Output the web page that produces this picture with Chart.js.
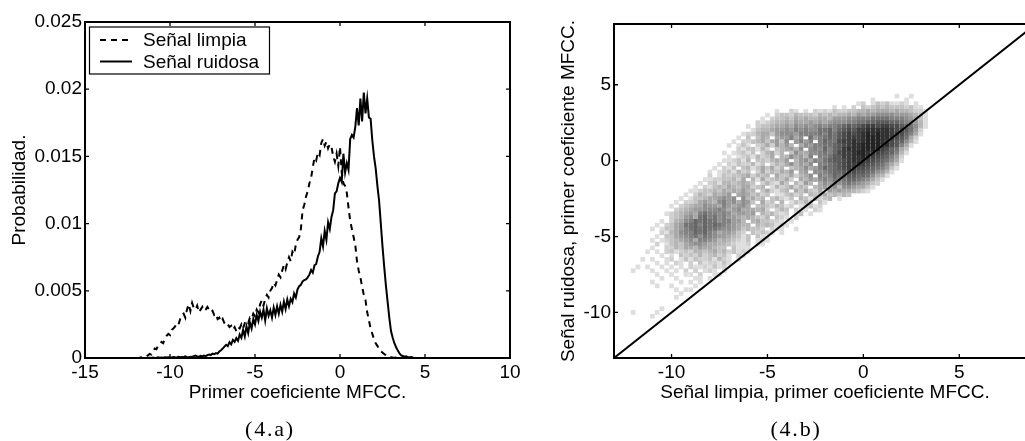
<!DOCTYPE html>
<html>
<head>
<meta charset="utf-8">
<title>Primer coeficiente MFCC</title>
<script src="https://cdn.jsdelivr.net/npm/chart.js@4"></script>
<style>
html, body { margin: 0; padding: 0; background: #fff; width: 1025px; height: 441px; overflow: hidden; }
canvas { position: absolute; top: 0; filter: blur(0.4px); }
#histo { left: 0; }
#disp { left: 540px; }
.cap { position: absolute; top: 416px; width: 80px; text-align: center; font: 22px "Liberation Serif", serif; letter-spacing: 1.8px; color: #000; }
</style>
</head>
<body>
<canvas id="histo" width="540" height="441"></canvas>
<canvas id="disp" width="510" height="441"></canvas>
<div class="cap" style="left:230px">(4.a)</div>
<div class="cap" style="left:756px">(4.b)</div>
<script>
// fig 4.a - histograms
const coefX = [
  -12.0,-11.9,-11.8,-11.7,-11.6,-11.5,-11.4,-11.3,-11.2,-11.1,
  -11.0,-10.9,-10.8,-10.7,-10.6,-10.5,-10.4,-10.3,-10.2,-10.1,
  -10.0,-9.9,-9.8,-9.7,-9.6,-9.5,-9.4,-9.3,-9.2,-9.1,
  -9.0,-8.9,-8.8,-8.7,-8.6,-8.5,-8.4,-8.3,-8.2,-8.1,
  -8.0,-7.9,-7.8,-7.7,-7.6,-7.5,-7.4,-7.3,-7.2,-7.1,
  -7.0,-6.9,-6.8,-6.7,-6.6,-6.5,-6.4,-6.3,-6.2,-6.1,
  -6.0,-5.9,-5.8,-5.7,-5.6,-5.5,-5.4,-5.3,-5.2,-5.1,
  -5.0,-4.9,-4.8,-4.7,-4.6,-4.5,-4.4,-4.3,-4.2,-4.1,
  -4.0,-3.9,-3.8,-3.7,-3.6,-3.5,-3.4,-3.3,-3.2,-3.1,
  -3.0,-2.9,-2.8,-2.7,-2.6,-2.5,-2.4,-2.3,-2.2,-2.1,
  -2.0,-1.9,-1.8,-1.7,-1.6,-1.5,-1.4,-1.3,-1.2,-1.1,
  -1.0,-0.9,-0.8,-0.7,-0.6,-0.5,-0.4,-0.3,-0.2,-0.1,
  0,0.1,0.2,0.3,0.4,0.5,0.6,0.7,0.8,0.9,
  1.0,1.1,1.2,1.3,1.4,1.5,1.6,1.7,1.8,1.9,
  2.0,2.1,2.2,2.3,2.4,2.5,2.6,2.7,2.8,2.9,
  3.0,3.1,3.2,3.3,3.4,3.5,3.6,3.7,3.8,3.9,
  4.0,4.1,4.2,4.3,4.4,4.5
]
const limpia = [
  0,0,.00002,.00005,.00004,.00008,.00012,.0002,.0003,.00025,
  .00045,.0007,.00065,.0009,.00105,.0012,.0011,.00145,.00165,.0018,
  .0017,.0021,.0022,.00235,.0026,.0025,.0029,.0032,.0033,.003,
  .0036,.004,.0035,.0041,.0037,.0036,.0039,.0034,.0036,.0038,
  .0035,.0036,.0038,.0036,.0034,.0035,.0032,.0033,.0029,.003,
  .0027,.0029,.0026,.0024,.0025,.0023,.0024,.0021,.0023,.002,
  .0023,.0022,.0025,.0022,.0026,.0028,.0026,.003,.0029,.0033,
  .0031,.0036,.0034,.004,.0043,.0039,.0044,.0047,.0045,.005,
  .0052,.0056,.0054,.0058,.0062,.006,.0065,.0069,.0066,.0071,
  .0075,.0072,.0079,.0077,.0084,.0088,.009,.0096,.011,.0114,
  .012,.0124,.013,.0134,.0142,.0149,.0147,.0153,.0151,.016,
  .0163,.0158,.0161,.0156,.0159,.0157,.015,.0146,.0152,.0143,
  .0157,.0138,.013,.0128,.0123,.0112,.0102,.0096,.009,.0084,
  .0072,.0065,.006,.0053,.0047,.0043,.0034,.0028,.0022,.0018,
  .0014,.0011,.0009,.0007,.0005,.0004,.0003,.0002,.0001,.00005,
  .00005,.00003,.00002,.00003,.00001,.00002,0,.00001,0,0,
  0,0,0,0,0,0
]
const ruidosa = [
  0,0,0,0,0,0,0,0,.00002,0,
  .00003,0,.00002,.00005,.00002,.00003,.00002,.00005,.00003,.00006,
  .00003,.00004,.00008,.00005,.00004,.00009,.00005,.00008,.00006,.00012,
  .00008,.00006,.0001,.00008,.00014,.00018,.00012,.0001,.00016,.00012,
  .00018,.00014,.00022,.00026,.00022,.00032,.00028,.00036,.00032,.00048,
  .00058,.0007,.00085,.00098,.00088,.00118,.00102,.00135,.0012,.00148,
  .00128,.00175,.0015,.0021,.0016,.00235,.00185,.00265,.0022,.0029,
  .0025,.0032,.00275,.00345,.003,.0036,.0028,.0037,.00315,.00355,
  .003,.00375,.0032,.00385,.0033,.00395,.00345,.0042,.00365,.00435,
  .00385,.0044,.00415,.0048,.0045,.0051,.00535,.00545,.0057,.0058,
  .00585,.006,.0062,.00655,.00635,.0069,.007,.00755,.0079,.0089,
  .0083,.00945,.0088,.0101,.0096,.0105,.011,.01225,.0124,.013,
  .0134,.0131,.0152,.0138,.0145,.014,.0163,.0166,.0164,.0172,
  .0186,.0173,.0193,.0176,.01975,.0182,.0193,.0179,.0178,.0162,
  .015,.0141,.0128,.0117,.01,.0083,.0068,.0054,.0042,.003,
  .002,.0015,.0011,.0008,.00055,.00035,.0002,.00015,.0001,.00012,
  .00005,.00006,.00008,.00002,0,0
]
const histoXTicks = [-15, -10, -5, 0, 5, 10]
const histoYTicks = [0, 0.005, 0.01, 0.015, 0.02, 0.025]

// fig 4.b - density of the scatter. One char per cell (hex, . = empty),
// each group of 4 is one unit of x starting at x=-12, rows go down in y from 4.25
const densityTop = 4.25
const densityStep = 0.25
const densityLeft = -12
const densityRows = [
  ".... .... .... .... .... .... .... .... .... .... .... .... .... ...1 ..1.",
  ".... .... .... .... .... .... .... .... .... .... .... .... ..1. .... .1..",
  ".... .... .... .... .... .... .... .... .... .... .... ...1 2.13 2311 21.1",
  ".... .... .... .... .... .... .... .... .... .... ..1. 1.2. 3234 3433 3231 1...",
  ".... .... .... .... .... .... .... ..1. .21. 1.21 2132 2334 4545 5545 4432 21..",
  ".... .... .... .... .... .... .... 1.23 3243 3324 3434 4546 5667 7776 6654 31..",
  ".... .... .... .... .... .... ...1 .233 4354 5445 5466 6778 8899 9988 8765 31..",
  ".... .... .... .... .... .... ..21 2344 5465 5656 5677 7889 9aab bbaa 9876 41..",
  ".... .... .... .... .... .... 1.23 3455 6576 7678 7889 abab cddc ddcc ba97 41..",
  ".... .... .... .... .... .... .134 4566 7687 8779 9a8a bcbd deee eedc cb96 2...",
  ".... .... .... .... .... ...1 2245 5367 7768 8889 8a9b cdcd efef eedd ca85 1...",
  ".... .... .... .... .... ..1. 3.35 4.56 6857 .968 9a9b cddd efff eedc b952",
  ".... .... .... .... .... .1.2 2345 3563 7.68 68.8 a99c dded efff edcb a741",
  ".... .... .... .... .... 1.13 1.23 5264 64.5 7688 99ab cdee ffff eecb 851.",
  ".... .... .... .... .... ..21 3314 2.34 5647 .787 a8ab deee ffff dca9 53..",
  ".... .... .... .... ...1 .123 13.2 4524 .375 5778 98ac ddef feed cba8 41..",
  ".... .... .... .... .... 1.12 3142 35.4 4756 48.8 89bb ddee fedc ba86 2...",
  ".... .... .... .... ...1 1231 4.33 2454 6.46 7587 9abb cdee edcb a975 1...",
  ".... .... .... .... ..1. 2132 2413 .243 5746 57.8 89ab cdde dcba 9753",
  ".... .... .... .... .1.2 13.3 4135 3524 .345 7568 a9ab cddc cba9 8631",
  ".... .... .... .... 1.12 3142 3.25 2435 46.5 6.77 89aa bccb ba97 641.",
  ".... .... .... .... 2.13 2334 5243 4.53 3524 57.8 78a9 abba a975 41..",
  ".... .... .... ...1 1223 3425 .415 2343 52.5 4657 8798 9aa9 8753 1...",
  ".... .... .... ..1. 2314 4345 43.2 4215 3.42 64.5 7687 8987 6532",
  ".... .... .... .1.2 1343 5435 5234 .142 3524 3.45 6574 7765 531.",
  ".... .... .... 1123 3435 4546 44.3 5213 4.53 5325 .656 5543 21..",
  ".... .... ...1 .243 2545 6.56 5342 3.11 3423 .434 5343 43..",
  ".... .... ..1. 1334 5567 67.7 4534 .342 13.4 3142 34.1",
  ".... .... .1.2 2356 5478 6757 63.5 23.4 .132 42.3 1...",
  ".... .... 1.23 4557 6658 6567 5.34 3243 12.1 2312",
  ".... .... .234 5667 7787 5675 5545 2.24 3.21 1.21",
  ".... ...1 2345 6589 8878 7566 56.4 3421 2.13 .1..",
  ".... .... 2346 759a 8978 6654 5432 4.32 1.2.",
  ".... ..1. 2457 8a9a 9978 8664 .453 3221 .1..",
  ".... .1.2 3569 9a8a 9a98 7654 4.43 4312 1...",
  ".... 1.13 3568 9a9a 9987 7653 4332 .211 ..1.",
  ".... ..21 4578 8a9a 8756 6532 .323 21.1",
  ".... .1.3 3567 8979 8766 5431 3.31 1...",
  ".... 1.12 3456 7588 7645 4321 3.12 1...",
  ".... .2.1 3435 6776 5544 3211 2.11",
  ".... 1..2 2435 5465 5433 .311 1...",
  "...1 .1.2 3123 2443 4534 2312 1...",
  ".... ..1. 1.32 3242 3423 1.21",
  "..1. 1..1 2.13 1322 3142 1.1.",
  ".... .1.1 .21. 2.31 2213 1...",
  ".1.1 ..1. 1.1. 2112 1312",
  "1... 1..1 .1.2 .2.1 21.1",
  ".... .1.. 1..1 1.2. .11.",
  ".... ..1. .1.. .11. 1...",
  ".... 1... ..1. 1.1.",
  ".... .1.. 1... .1..",
  ".... .... .1.1 1...",
  ".... .... ..1.",
  ".... .... .1..",
  "",
  "",
  ".... ..1.",
  "1... .1..",
  ".... 1..."
]
const identityX = [-13, 9]
const identityY = [-13, 9]
const dispXTicks = [-10, -5, 0, 5]
const dispYTicks = [-10, -5, 0, 5]

const TICK_FONT = { family: '"Liberation Sans", Arial, sans-serif', size: 19 }

// matlab style box: thick frame, short ticks going inwards on all sides
const boxAxes = {
  id: 'boxAxes',
  afterDatasetsDraw(chart) {
    const { ctx, chartArea: a, scales } = chart
    ctx.save()
    ctx.strokeStyle = '#000'
    ctx.lineWidth = 1.3
    ctx.beginPath()
    scales.x.ticks.forEach(t => {
      const px = scales.x.getPixelForValue(t.value)
      ctx.moveTo(px, a.bottom); ctx.lineTo(px, a.bottom - 4)
      ctx.moveTo(px, a.top); ctx.lineTo(px, a.top + 4)
    })
    scales.y.ticks.forEach(t => {
      const py = scales.y.getPixelForValue(t.value)
      ctx.moveTo(a.left, py); ctx.lineTo(a.left + 4, py)
      ctx.moveTo(a.right, py); ctx.lineTo(a.right - 4, py)
    })
    ctx.stroke()
    ctx.lineWidth = 2
    ctx.strokeRect(a.left, a.top, a.right - a.left, a.bottom - a.top)
    ctx.restore()
  }
}

// legend box sits just inside the top left corner
const boxLegend = {
  id: 'boxLegend',
  afterDraw(chart) {
    const ctx = chart.ctx
    ctx.save()
    ctx.fillStyle = '#fff'
    ctx.strokeStyle = '#000'
    ctx.lineWidth = 1.2
    ctx.fillRect(89.5, 27, 180, 47)
    ctx.strokeRect(89.5, 27, 180, 47)
    ctx.font = '19px "Liberation Sans", Arial, sans-serif'
    ctx.textBaseline = 'middle'
    chart.data.datasets.forEach((ds, i) => {
      const y = 40 + i * 21.5
      ctx.lineWidth = ds.borderWidth
      ctx.setLineDash(ds.borderDash || [])
      ctx.beginPath()
      ctx.moveTo(100, y)
      ctx.lineTo(132, y)
      ctx.stroke()
      ctx.setLineDash([])
      ctx.fillStyle = '#000'
      ctx.fillText(ds.label, 143, y + 1)
    })
    ctx.restore()
  }
}

function axis(min, max, tickList, opts) {
  return Object.assign({
    type: 'linear',
    min, max,
    grid: { display: false, drawTicks: false },
    border: { display: false },
    afterBuildTicks: s => { s.ticks = tickList.map(v => ({ value: v })) },
    ticks: {
      color: '#000', font: TICK_FONT, autoSkip: false, maxRotation: 0,
      padding: 3, callback: v => String(v)
    }
  }, opts)
}

function title(text, pad) {
  return { display: true, text, color: '#000', font: TICK_FONT, padding: pad }
}

new Chart(document.getElementById('histo'), {
  type: 'scatter',
  data: {
    datasets: [
      { label: 'Señal limpia', data: coefX.map((x, i) => ({ x, y: limpia[i] })), showLine: true, pointRadius: 0, borderColor: '#000', borderWidth: 2, borderDash: [6, 5] },
      { label: 'Señal ruidosa', data: coefX.map((x, i) => ({ x, y: ruidosa[i] })), showLine: true, pointRadius: 0, borderColor: '#000', borderWidth: 2 }
    ]
  },
  plugins: [boxAxes, boxLegend],
  options: {
    responsive: false,
    animation: false,
    layout: { padding: { top: 22, right: 30, left: 0, bottom: 0 } },
    plugins: { legend: { display: false }, tooltip: { enabled: false } },
    scales: {
      x: axis(-15, 10, histoXTicks, {
        title: title('Primer coeficiente MFCC.', { top: 0, bottom: 37 }),
        afterFit: s => { s.height = 83 }
      }),
      y: axis(0, 0.025, histoYTicks, {
        title: title('Probabilidad.', { top: 8, bottom: 0 }),
        afterFit: s => { s.width = 85 }
      })
    }
  }
})

// one point per filled cell of the density table
const densityCells = []
const densityColors = []
densityRows.forEach((row, r) => {
  row.replace(/ /g, '').split('').forEach((ch, c) => {
    if (ch === '.') return
    densityCells.push({ x: densityLeft + c * densityStep, y: densityTop - r * densityStep })
    const g = Math.round(235 - 13.3 * parseInt(ch, 16))
    densityColors.push(`rgb(${g},${g},${g})`)
  })
})

new Chart(document.getElementById('disp'), {
  type: 'scatter',
  data: {
    datasets: [
      { label: 'y=x', data: identityX.map((x, i) => ({ x, y: identityY[i] })), showLine: true, pointRadius: 0, borderColor: '#000', borderWidth: 2 },
      { label: 'densidad', data: densityCells, pointStyle: 'rect', pointRadius: 3.3, pointBorderWidth: 0, backgroundColor: densityColors, borderColor: 'transparent' }
    ]
  },
  plugins: [boxAxes],
  options: {
    responsive: false,
    animation: false,
    layout: { padding: { top: 24, right: 14, left: 0, bottom: 0 } },
    plugins: { legend: { display: false }, tooltip: { enabled: false } },
    scales: {
      x: axis(-13, 9, dispXTicks, {
        title: title('Señal limpia, primer coeficiente MFCC.', { top: 0, bottom: 37 }),
        afterFit: s => { s.height = 83 }
      }),
      y: axis(-13, 9, dispYTicks, {
        title: title('Señal ruidosa, primer coeficiente MFCC.', { top: 17, bottom: 0 }),
        afterFit: s => { s.width = 74 }
      })
    }
  }
})
</script>
</body>
</html>
